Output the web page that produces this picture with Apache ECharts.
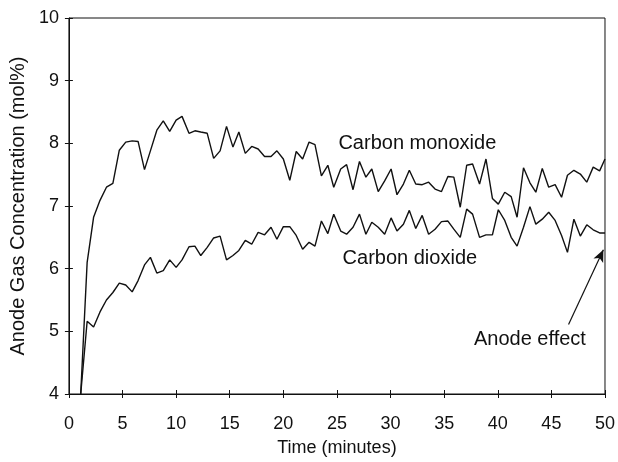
<!DOCTYPE html>
<html>
<head>
<meta charset="utf-8">
<script src="https://cdn.jsdelivr.net/npm/echarts@6/dist/echarts.min.js"></script>
<style>
html,body{margin:0;padding:0;background:#fff;}
#main{width:618px;height:462px;}
</style>
</head>
<body>
<div id="main"></div>
<script>
// time in minutes
var minutes = [1.1, 1.7, 2.3, 2.9, 3.5, 4.1, 4.7, 5.3, 5.9, 6.45, 7.05, 7.6, 8.2, 8.8, 9.4, 10.0, 10.55,
	11.2, 11.75, 12.3, 12.9, 13.5, 14.1, 14.7, 15.3, 15.85, 16.45, 17.05, 17.65, 18.25, 18.85, 19.4, 20.0,
	20.6, 21.2, 21.8, 22.4, 22.95, 23.55, 24.15, 24.7, 25.35, 25.9, 26.5, 27.1, 27.7, 28.25, 28.85, 29.45,
	30.05, 30.6, 31.2, 31.75, 32.35, 32.95, 33.55, 34.15, 34.75, 35.35, 35.9, 36.5, 37.1, 37.65, 38.3, 38.9,
	39.5, 40.05, 40.65, 41.25, 41.8, 42.4, 43.0, 43.55, 44.15, 44.75, 45.35, 45.95, 46.5, 47.1, 47.7, 48.3,
	48.9, 49.5, 50.0];
var carbonMonoxide = [4.0, 6.1, 6.82, 7.09, 7.3, 7.36, 7.89, 8.02, 8.04, 8.03, 7.58, 7.88, 8.21, 8.36, 8.19,
	8.37, 8.43, 8.16, 8.2, 8.18, 8.16, 7.76, 7.88, 8.27, 7.94, 8.18, 7.84, 7.95, 7.91, 7.79, 7.79, 7.88, 7.75,
	7.41, 7.87, 7.75, 8.02, 7.98, 7.48, 7.65, 7.3, 7.59, 7.66, 7.26, 7.71, 7.46, 7.59, 7.23, 7.4, 7.59, 7.18,
	7.35, 7.57, 7.35, 7.34, 7.38, 7.27, 7.23, 7.47, 7.46, 6.98, 7.65, 7.67, 7.35, 7.75, 7.12, 7.03, 7.22, 7.15,
	6.82, 7.61, 7.37, 7.22, 7.6, 7.3, 7.34, 7.14, 7.49, 7.57, 7.51, 7.38, 7.62, 7.56, 7.75];
var carbonDioxide = [4.0, 5.16, 5.07, 5.31, 5.5, 5.62, 5.77, 5.74, 5.63, 5.81, 6.06, 6.18, 5.93, 5.97, 6.14,
	6.02, 6.14, 6.35, 6.36, 6.21, 6.34, 6.49, 6.52, 6.14, 6.21, 6.29, 6.45, 6.39, 6.58, 6.54, 6.66, 6.47, 6.67,
	6.67, 6.53, 6.31, 6.42, 6.36, 6.76, 6.56, 6.87, 6.6, 6.55, 6.66, 6.87, 6.55, 6.74, 6.66, 6.55, 6.81, 6.6,
	6.71, 6.93, 6.64, 6.85, 6.55, 6.63, 6.75, 6.76, 6.63, 6.5, 6.95, 6.87, 6.5, 6.54, 6.54, 6.94, 6.77, 6.5,
	6.36, 6.66, 6.99, 6.71, 6.79, 6.9, 6.77, 6.53, 6.26, 6.79, 6.52, 6.7, 6.62, 6.57, 6.57];

// annotation text and arrow, in data units
var coLabel = [32.5, 8.0];
var co2Label = [31.8, 6.17];
var anodeLabel = [43.0, 4.87];
var arrowFrom = [46.6, 5.11];
var arrowTo = [49.85, 6.3];

var font = 'Liberation Sans, Arial, sans-serif';

function pairs(xs, ys){
	var out = [];
	for(var i=0;i<xs.length;i++){
		out.push([xs[i], ys[i]]);
	}
	return out;
}

function textMark(pos, text){
	return {
		coord: pos,
		symbol: 'rect',
		symbolSize: 1,
		itemStyle: {color: 'rgba(0,0,0,0)'},
		label: {show: true, position: 'inside', formatter: text, color: '#111', fontSize: 20, fontFamily: font}
	};
}

var myChart = echarts.init(document.getElementById('main'));
var option = {
	animation: false,
	grid: {left: 58, right: 5, top: 18, bottom: 64, show: true, borderColor: '#111', borderWidth: 1},
	xAxis: [{
		type: 'value', min: 0, max: 50, interval: 5,
		name: 'Time (minutes)', nameLocation: 'middle', nameGap: 45,
		nameTextStyle: {color: '#111', fontSize: 18, fontFamily: font},
		axisLine: {lineStyle: {color: '#111'}},
		axisTick: {length: 4, lineStyle: {color: '#111'}},
		axisLabel: {color: '#111', fontSize: 18, fontFamily: font, margin: 21},
		splitLine: {show: false}
	}, {
		type: 'value', min: 0, max: 50, interval: 5, position: 'bottom',
		axisLine: {show: false},
		axisTick: {inside: true, length: 4, lineStyle: {color: '#111'}},
		axisLabel: {show: false},
		splitLine: {show: false}
	}],
	yAxis: [{
		type: 'value', min: 4, max: 10, interval: 1,
		name: 'Anode Gas Concentration (mol%)', nameLocation: 'middle', nameGap: 22,
		nameTextStyle: {color: '#111', fontSize: 20, fontFamily: font},
		axisLine: {show: true, lineStyle: {color: '#111'}},
		axisTick: {show: true, length: 4, lineStyle: {color: '#111'}},
		axisLabel: {color: '#111', fontSize: 18, fontFamily: font, margin: 10},
		splitLine: {show: false}
	}, {
		type: 'value', min: 4, max: 10, interval: 1, position: 'left',
		axisLine: {show: false},
		axisTick: {show: true, inside: true, length: 4, lineStyle: {color: '#111'}},
		axisLabel: {show: false},
		splitLine: {show: false}
	}],
	series: [{
		name: 'Carbon monoxide',
		type: 'line',
		showSymbol: false,
		data: pairs(minutes, carbonMonoxide),
		lineStyle: {color: '#111', width: 1.4},
		markPoint: {data: [textMark(coLabel, 'Carbon monoxide')]}
	}, {
		name: 'Carbon dioxide',
		type: 'line',
		showSymbol: false,
		data: pairs(minutes, carbonDioxide),
		lineStyle: {color: '#111', width: 1.4},
		markPoint: {data: [textMark(co2Label, 'Carbon dioxide'), textMark(anodeLabel, 'Anode effect')]},
		markLine: {
			silent: true,
			symbol: ['none', 'arrow'],
			symbolSize: [8, 12],
			label: {show: false},
			lineStyle: {color: '#111', width: 1.2, type: 'solid'},
			data: [[{coord: arrowFrom}, {coord: arrowTo}]]
		}
	}]
};
myChart.setOption(option);
</script>
</body>
</html>
